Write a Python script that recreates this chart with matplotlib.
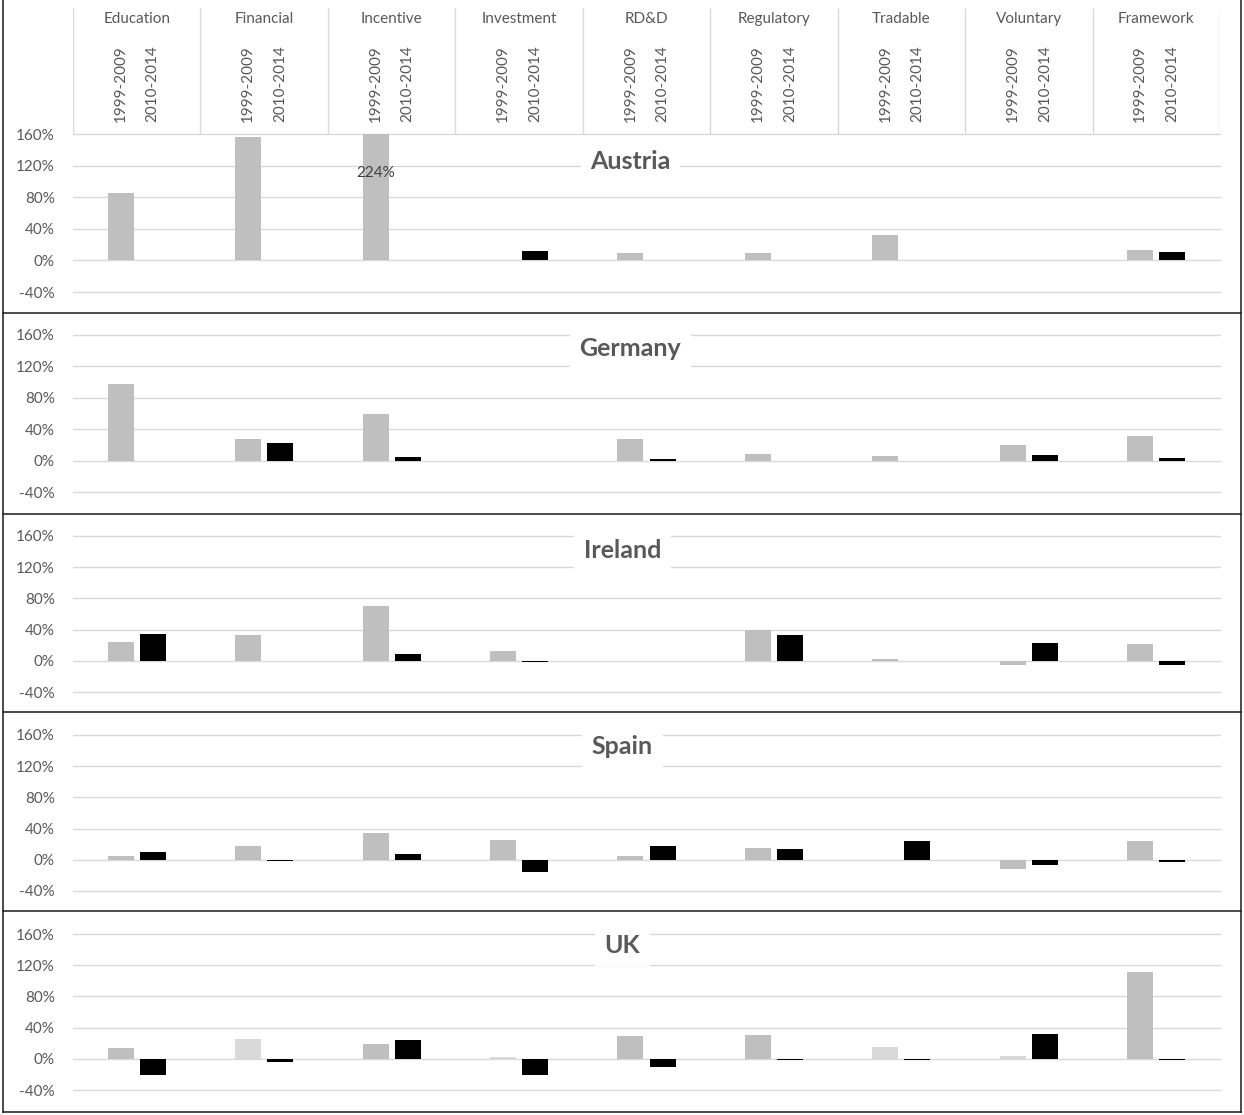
import matplotlib
matplotlib.use("Agg")
import matplotlib.pyplot as plt
from matplotlib.lines import Line2D
import numpy as np

plt.rcParams['font.family'] = ['Lato', 'DejaVu Sans']

categories = ["Education", "Financial", "Incentive", "Investment", "RD&D",
              "Regulatory", "Tradable", "Voluntary", "Framework"]
periods = ["1999-2009", "2010-2014"]
countries = ["Austria", "Germany", "Ireland", "Spain", "UK"]

# change in %, per category
austria_9909 = [85, 156, 224, 0, 9, 9, 32, 0, 13]
austria_1014 = [0, 1, 1, 12, 1, 1, 0, 0, 10]
germany_9909 = [98, 28, 60, 0, 28, 8, 6, 20, 31]
germany_1014 = [0, 22, 4, 0, 2, -1, 0, 7, 3]
ireland_9909 = [24, 33, 70, 12, -0.5, 39, 2, -5, 21]
ireland_1014 = [35, 0, 9, -1, 0, 33, 0, 23, -5]
spain_9909 = [5, 18, 35, 26, 5, 15, 0, -12, 24]
spain_1014 = [10, -1.5, 8, -16, 18, 14, 24, -7, -3]
uk_9909 = [14, 26, 19, 2, 29, 30, 15, 4, 111]
uk_1014 = [-21, -4, 24, -21, -10, -2, -2, 32, -2]

first = [austria_9909, germany_9909, ireland_9909, spain_9909, uk_9909]
second = [austria_1014, germany_1014, ireland_1014, spain_1014, uk_1014]

# styling
GREY, LIGHT, TXT = "#bfbfbf", "#d9d9d9", "#595959"
light_bars = {"UK": [1, 3, 6, 7]}
W, H = 1244, 1115
x0, x1 = 73, 1220
panels = [(134, 292), (335, 492), (536, 692), (735, 891), (934, 1090)]
title_pos = [(0.486, 0.829), (0.486, 0.912), (0.479, 0.904), (0.479, 0.925), (0.479, 0.929)]
off, bw = 0.126, 0.204

fig = plt.figure(figsize=(W / 100, H / 100), dpi=100)

x = np.arange(len(categories)) + 0.5
for k, name in enumerate(countries):
    top, bot = panels[k]
    ax = fig.add_axes([x0 / W, 1 - bot / H, (x1 - x0) / W, (bot - top) / H])
    ax.set_xlim(0, len(categories))
    ax.set_ylim(-40, 160)
    ticks = list(range(-40, 161, 40))
    ax.set_yticks(ticks)
    ax.set_yticklabels([f"{t}%" for t in ticks], fontsize=11, color=TXT)
    ax.tick_params(axis="y", length=0, pad=13)
    ax.set_xticks([])
    ax.yaxis.grid(True, color=LIGHT, lw=1.0)
    for gl in ax.get_ygridlines():
        gl.set_clip_on(False)
    ax.set_axisbelow(True)
    for s in ax.spines.values():
        s.set_visible(False)
    ax.patch.set_visible(False)

    cols = [LIGHT if i in light_bars.get(name, []) else GREY for i in range(len(categories))]
    ax.bar(x - off, first[k], width=bw, color=cols, zorder=2)
    ax.bar(x + off, second[k], width=bw, color="black", zorder=2)

    for i, v in enumerate(first[k]):
        if v > 160:
            ax.annotate(f"{v}%", xy=(x[i] - off, 160), xytext=(0, -39),
                        textcoords="offset pixels", ha="center", va="center",
                        fontsize=11, color="#404040", zorder=3)

    tx, ty = title_pos[k]
    ax.text(tx, ty, name, transform=ax.transAxes, ha="center", va="center",
            fontsize=18, fontweight="bold", color=TXT, zorder=4,
            bbox=dict(fc="white", ec="none", pad=7))

# header with category and period labels
hax = fig.add_axes([x0 / W, 1 - 134 / H, (x1 - x0) / W, (134 - 8) / H])
hax.set_xlim(0, len(categories))
hax.set_ylim(134, 8)
hax.axis("off")
hax.vlines(np.arange(len(categories) + 1), 8, 134, color=LIGHT, lw=1.0)
for i, c in enumerate(categories):
    hax.text(x[i], 19, c, ha="center", va="center", fontsize=11, color=TXT)
    for j, p in enumerate(periods):
        hax.text(x[i] + (2 * j - 1) * off, 122, p, rotation=90, ha="center",
                 va="bottom", fontsize=11, color=TXT)

# panel borders
def fline(xs, ys):
    fig.add_artist(Line2D([v / W for v in xs], [1 - v / H for v in ys],
                          transform=fig.transFigure, color="#1a1a1a", lw=1.1))

fline([3, 3], [0, 1112])
fline([1241, 1241], [0, 1112])
for yy in [313, 514, 712, 911, 1112]:
    fline([3, 1241], [yy, yy])

fig.savefig("out.png", dpi=100)
